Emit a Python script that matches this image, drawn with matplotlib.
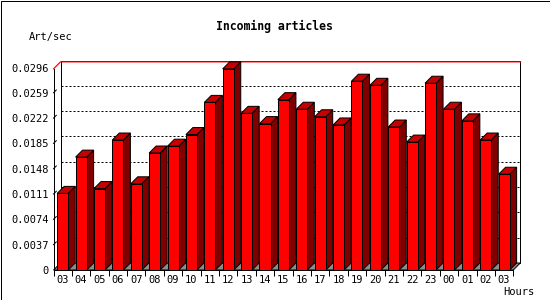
import numpy as np
import matplotlib
matplotlib.use('Agg')
import matplotlib.pyplot as plt
from matplotlib.patches import Polygon, Rectangle
from matplotlib import transforms

hours = ['03', '04', '05', '06', '07', '08', '09', '10', '11', '12', '13', '14',
         '15', '16', '17', '18', '19', '20', '21', '22', '23', '00', '01', '02', '03']
art_per_sec = [0.0112, 0.0165, 0.0119, 0.0190, 0.0126, 0.0171, 0.0181, 0.0198,
               0.0245, 0.0294, 0.0229, 0.0214, 0.0249, 0.0235, 0.0224, 0.0212,
               0.0276, 0.0270, 0.0209, 0.0187, 0.0273, 0.0235, 0.0218, 0.0190,
               0.0140]
y_ticks = [0, 0.0037, 0.0074, 0.0111, 0.0148, 0.0185, 0.0222, 0.0259, 0.0296]
y_labels = ['0', '0.0037', '0.0074', '0.0111', '0.0148', '0.0185', '0.0222',
            '0.0259', '0.0296']

W, H = 550, 300
DEPTH = 7  # px, 3d offset
PX = 0.72  # 1 px in points at dpi 100
mono = 'DejaVu Sans Mono'

fig = plt.figure(figsize=(W / 100, H / 100), dpi=100)
fig.patches.append(Rectangle((0.5 / W, 0.5 / H), 1 - 1 / W, 1 - 1 / H,
                             transform=fig.transFigure, fill=False,
                             edgecolor='black', lw=PX))

# front plane of the plot, in pixels from top-left
left, right, top, bottom = 53.5, 513.3, 67.5, 270
ax = fig.add_axes([left / W, 1 - bottom / H, (right - left) / W, (bottom - top) / H])
n = len(hours)
x = np.arange(n)
ymax = y_ticks[-1]
ax.set_xlim(-0.5, n - 0.5)
ax.set_ylim(0, ymax)
ax.patch.set_visible(False)

# depth in data units
dx = DEPTH * n / (right - left)
dy = DEPTH * ymax / (bottom - top)
back = transforms.offset_copy(ax.transData, fig=fig, x=DEPTH, y=DEPTH, units='dots')

# back wall and gridlines
ax.add_patch(Rectangle((-0.5, 0), n, ymax, transform=back, facecolor='white',
                       edgecolor='black', lw=PX, zorder=0.5, clip_on=False))
for v in y_ticks[1:-1]:
    ax.plot([-0.5, n - 0.5], [v, v], transform=back, color='black', lw=PX,
            ls=(0, (2, 2)), zorder=0.8, clip_on=False)
    ax.plot([-0.5, -0.5 + dx * 0.4], [v, v + dy * 0.4], color='black', lw=PX,
            zorder=0.8, clip_on=False)

# max line
vmax = max(art_per_sec)
ax.plot([-0.5, -0.5 + dx, n - 0.5 + dx], [vmax, vmax + dy, vmax + dy],
        color='red', lw=PX * 1.2, zorder=0.9, clip_on=False)

# floor
floor = [(-0.5, 0), (n - 0.5, 0), (n - 0.5 + dx, dy), (-0.5 + dx, dy)]
ax.add_patch(Polygon(floor, closed=True, facecolor='#8c8c8c', edgecolor='black',
                     lw=PX, zorder=1, clip_on=False))

# bars
bw = 0.6
for xi, v in zip(x, art_per_sec):
    x0, x1 = xi - bw / 2, xi + bw / 2
    side = [(x1, 0), (x1, v), (x1 + dx, v + dy), (x1 + dx, dy)]
    topf = [(x0, v), (x1, v), (x1 + dx, v + dy), (x0 + dx, v + dy)]
    ax.add_patch(Polygon(side, closed=True, facecolor='#800000', edgecolor='black',
                         lw=PX, zorder=3, clip_on=False))
    ax.add_patch(Polygon(topf, closed=True, facecolor='#c80000', edgecolor='black',
                         lw=PX, zorder=3, clip_on=False))
ax.bar(x, art_per_sec, width=bw, color='#ff0000', edgecolor='black', lw=PX, zorder=3)

# axes
for s in ['top', 'right']:
    ax.spines[s].set_visible(False)
ax.spines['left'].set_bounds(0, vmax)
for s in ['left', 'bottom']:
    ax.spines[s].set_linewidth(PX)
    ax.spines[s].set_zorder(4)

ax.set_yticks(y_ticks)
ax.set_yticklabels(y_labels, fontfamily=mono, fontsize=7.5)
ax.tick_params(axis='y', length=0, pad=3.5)
ax.set_xticks(x)
ax.set_xticklabels(hours, fontfamily=mono, fontsize=7.5)
ax.set_xticks(np.arange(n + 1) - 0.5, minor=True)
ax.tick_params(axis='x', which='major', length=0, pad=3.5)
ax.tick_params(axis='x', which='minor', length=4, width=PX, direction='out')

fig.text(274 / W, 1 - 26.7 / H, 'Incoming articles', ha='center', va='center',
         fontfamily=mono, fontweight='bold', fontsize=8.3)
fig.text(29 / W, 1 - 36.7 / H, 'Art/sec', ha='left', va='center',
         fontfamily=mono, fontsize=7.5)
fig.text(534 / W, 1 - 291.7 / H, 'Hours', ha='right', va='center',
         fontfamily=mono, fontsize=7.5)

fig.savefig('out.png', dpi=100)
